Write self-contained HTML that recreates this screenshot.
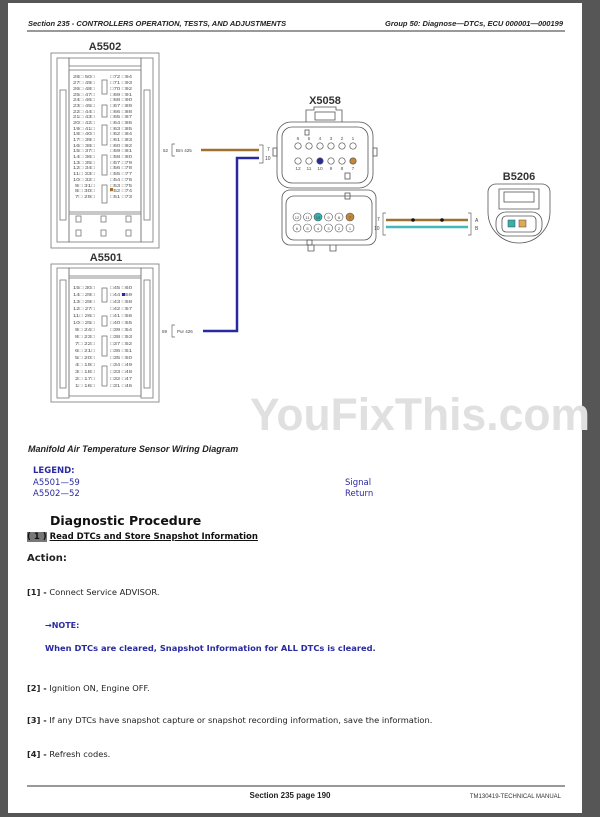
<!DOCTYPE html>
<html><head><meta charset="utf-8"><style>
html,body{margin:0;padding:0;background:#565656;width:600px;height:817px;overflow:hidden}
.page{position:absolute;left:8px;top:3px;width:574px;height:810px;background:#fff}
svg{position:absolute;left:0;top:0}
text{font-family:"Liberation Sans",sans-serif}
.t{position:absolute;font-family:"DejaVu Sans","Liberation Sans",sans-serif;white-space:nowrap;color:#222}
</style></head><body>
<div class="page"></div>
<svg width="600" height="817" viewBox="0 0 600 817">
<text x="28" y="26" font-size="7.5" font-weight="bold" font-style="italic" fill="#222">Section 235 - CONTROLLERS OPERATION, TESTS, AND ADJUSTMENTS</text>
<text x="563" y="26" font-size="7.5" font-weight="bold" font-style="italic" fill="#222" text-anchor="end">Group 50: Diagnose—DTCs, ECU 000001—000199</text>
<line x1="27" y1="31" x2="565" y2="31" stroke="#333" stroke-width="1"/>
<text x="250" y="430" font-size="45" font-weight="bold" fill="#e0e0e0" textLength="340" lengthAdjust="spacingAndGlyphs">YouFixThis.com</text>

<!-- A5502 -->
<text x="105" y="50" font-size="11" font-weight="bold" text-anchor="middle" fill="#333">A5502</text>
<g fill="none" stroke="#777" stroke-width="0.8">
<rect x="51" y="53" width="108" height="195"/>
<rect x="57" y="58" width="12" height="184"/><rect x="141" y="58" width="12" height="184"/>
<rect x="60" y="90" width="6" height="130"/><rect x="144" y="90" width="6" height="130"/>
<rect x="69" y="58" width="72" height="8"/>
<rect x="69" y="70" width="72" height="142"/>
<rect x="69" y="214" width="72" height="28"/>
<rect x="102" y="80" width="5" height="14"/><rect x="102" y="105" width="5" height="12"/>
<rect x="102" y="125" width="5" height="20"/><rect x="102" y="155" width="5" height="20"/><rect x="102" y="185" width="5" height="18"/>
<rect x="76" y="216" width="5" height="6"/><rect x="101" y="216" width="5" height="6"/><rect x="126" y="216" width="5" height="6"/>
<rect x="76" y="230" width="5" height="6"/><rect x="101" y="230" width="5" height="6"/><rect x="126" y="230" width="5" height="6"/>
</g>
<g font-size="4.6" fill="#555">
<text x="73" y="78" textLength="22" lengthAdjust="spacingAndGlyphs">28□ 50□</text><text x="110" y="78" textLength="22" lengthAdjust="spacingAndGlyphs">□72 □94</text>
<text x="73" y="84" textLength="22" lengthAdjust="spacingAndGlyphs">27□ 49□</text><text x="110" y="84" textLength="22" lengthAdjust="spacingAndGlyphs">□71 □93</text>
<text x="73" y="90" textLength="22" lengthAdjust="spacingAndGlyphs">26□ 48□</text><text x="110" y="90" textLength="22" lengthAdjust="spacingAndGlyphs">□70 □92</text>
<text x="73" y="96" textLength="22" lengthAdjust="spacingAndGlyphs">25□ 47□</text><text x="110" y="96" textLength="22" lengthAdjust="spacingAndGlyphs">□69 □91</text>
<text x="73" y="101" textLength="22" lengthAdjust="spacingAndGlyphs">24□ 46□</text><text x="110" y="101" textLength="22" lengthAdjust="spacingAndGlyphs">□68 □90</text>
<text x="73" y="107" textLength="22" lengthAdjust="spacingAndGlyphs">23□ 45□</text><text x="110" y="107" textLength="22" lengthAdjust="spacingAndGlyphs">□67 □89</text>
<text x="73" y="113" textLength="22" lengthAdjust="spacingAndGlyphs">22□ 44□</text><text x="110" y="113" textLength="22" lengthAdjust="spacingAndGlyphs">□66 □88</text>
<text x="73" y="118" textLength="22" lengthAdjust="spacingAndGlyphs">21□ 43□</text><text x="110" y="118" textLength="22" lengthAdjust="spacingAndGlyphs">□65 □87</text>
<text x="73" y="124" textLength="22" lengthAdjust="spacingAndGlyphs">20□ 42□</text><text x="110" y="124" textLength="22" lengthAdjust="spacingAndGlyphs">□64 □86</text>
<text x="73" y="130" textLength="22" lengthAdjust="spacingAndGlyphs">19□ 41□</text><text x="110" y="130" textLength="22" lengthAdjust="spacingAndGlyphs">□63 □85</text>
<text x="73" y="135" textLength="22" lengthAdjust="spacingAndGlyphs">18□ 40□</text><text x="110" y="135" textLength="22" lengthAdjust="spacingAndGlyphs">□62 □84</text>
<text x="73" y="141" textLength="22" lengthAdjust="spacingAndGlyphs">17□ 39□</text><text x="110" y="141" textLength="22" lengthAdjust="spacingAndGlyphs">□61 □83</text>
<text x="73" y="147" textLength="22" lengthAdjust="spacingAndGlyphs">16□ 38□</text><text x="110" y="147" textLength="22" lengthAdjust="spacingAndGlyphs">□60 □82</text>
<text x="73" y="152" textLength="22" lengthAdjust="spacingAndGlyphs">15□ 37□</text><text x="110" y="152" textLength="22" lengthAdjust="spacingAndGlyphs">□59 □81</text>
<text x="73" y="158" textLength="22" lengthAdjust="spacingAndGlyphs">14□ 36□</text><text x="110" y="158" textLength="22" lengthAdjust="spacingAndGlyphs">□58 □80</text>
<text x="73" y="164" textLength="22" lengthAdjust="spacingAndGlyphs">13□ 35□</text><text x="110" y="164" textLength="22" lengthAdjust="spacingAndGlyphs">□57 □79</text>
<text x="73" y="169" textLength="22" lengthAdjust="spacingAndGlyphs">12□ 34□</text><text x="110" y="169" textLength="22" lengthAdjust="spacingAndGlyphs">□56 □78</text>
<text x="73" y="175" textLength="22" lengthAdjust="spacingAndGlyphs">11□ 33□</text><text x="110" y="175" textLength="22" lengthAdjust="spacingAndGlyphs">□55 □77</text>
<text x="73" y="181" textLength="22" lengthAdjust="spacingAndGlyphs">10□ 32□</text><text x="110" y="181" textLength="22" lengthAdjust="spacingAndGlyphs">□54 □76</text>
<text x="75" y="187" textLength="20" lengthAdjust="spacingAndGlyphs">9□ 31□</text><text x="110" y="187" textLength="22" lengthAdjust="spacingAndGlyphs">□53 □75</text>
<text x="75" y="192" textLength="20" lengthAdjust="spacingAndGlyphs">8□ 30□</text><text x="110" y="192" textLength="22" lengthAdjust="spacingAndGlyphs">□52 □74</text>
<text x="75" y="198" textLength="20" lengthAdjust="spacingAndGlyphs">7□ 29□</text><text x="110" y="198" textLength="22" lengthAdjust="spacingAndGlyphs">□51 □73</text>
</g>
<rect x="110" y="188" width="3" height="3" fill="#a07030"/>

<!-- A5501 -->
<text x="106" y="261" font-size="11" font-weight="bold" text-anchor="middle" fill="#333">A5501</text>
<g fill="none" stroke="#777" stroke-width="0.8">
<rect x="51" y="264" width="108" height="138"/>
<rect x="57" y="268" width="12" height="130"/><rect x="141" y="268" width="12" height="130"/>
<rect x="60" y="280" width="6" height="108"/><rect x="144" y="280" width="6" height="108"/>
<rect x="69" y="268" width="72" height="8"/>
<rect x="69" y="278" width="72" height="118"/>
<rect x="102" y="288" width="5" height="14"/><rect x="102" y="316" width="5" height="10"/>
<rect x="102" y="336" width="5" height="20"/><rect x="102" y="366" width="5" height="20"/>
</g>
<g font-size="4.6" fill="#555">
<text x="73" y="289" textLength="22" lengthAdjust="spacingAndGlyphs">15□ 30□</text><text x="110" y="289" textLength="22" lengthAdjust="spacingAndGlyphs">□45 □60</text>
<text x="73" y="296" textLength="22" lengthAdjust="spacingAndGlyphs">14□ 29□</text><text x="110" y="296" textLength="22" lengthAdjust="spacingAndGlyphs">□44 □59</text>
<text x="73" y="303" textLength="22" lengthAdjust="spacingAndGlyphs">13□ 28□</text><text x="110" y="303" textLength="22" lengthAdjust="spacingAndGlyphs">□43 □58</text>
<text x="73" y="310" textLength="22" lengthAdjust="spacingAndGlyphs">12□ 27□</text><text x="110" y="310" textLength="22" lengthAdjust="spacingAndGlyphs">□42 □57</text>
<text x="73" y="317" textLength="22" lengthAdjust="spacingAndGlyphs">11□ 26□</text><text x="110" y="317" textLength="22" lengthAdjust="spacingAndGlyphs">□41 □56</text>
<text x="73" y="324" textLength="22" lengthAdjust="spacingAndGlyphs">10□ 25□</text><text x="110" y="324" textLength="22" lengthAdjust="spacingAndGlyphs">□40 □55</text>
<text x="75" y="331" textLength="20" lengthAdjust="spacingAndGlyphs">9□ 24□</text><text x="110" y="331" textLength="22" lengthAdjust="spacingAndGlyphs">□39 □54</text>
<text x="75" y="338" textLength="20" lengthAdjust="spacingAndGlyphs">8□ 23□</text><text x="110" y="338" textLength="22" lengthAdjust="spacingAndGlyphs">□38 □53</text>
<text x="75" y="345" textLength="20" lengthAdjust="spacingAndGlyphs">7□ 22□</text><text x="110" y="345" textLength="22" lengthAdjust="spacingAndGlyphs">□37 □52</text>
<text x="75" y="352" textLength="20" lengthAdjust="spacingAndGlyphs">6□ 21□</text><text x="110" y="352" textLength="22" lengthAdjust="spacingAndGlyphs">□36 □51</text>
<text x="75" y="359" textLength="20" lengthAdjust="spacingAndGlyphs">5□ 20□</text><text x="110" y="359" textLength="22" lengthAdjust="spacingAndGlyphs">□35 □50</text>
<text x="75" y="366" textLength="20" lengthAdjust="spacingAndGlyphs">4□ 19□</text><text x="110" y="366" textLength="22" lengthAdjust="spacingAndGlyphs">□34 □49</text>
<text x="75" y="373" textLength="20" lengthAdjust="spacingAndGlyphs">3□ 18□</text><text x="110" y="373" textLength="22" lengthAdjust="spacingAndGlyphs">□33 □48</text>
<text x="75" y="380" textLength="20" lengthAdjust="spacingAndGlyphs">2□ 17□</text><text x="110" y="380" textLength="22" lengthAdjust="spacingAndGlyphs">□32 □47</text>
<text x="75" y="387" textLength="20" lengthAdjust="spacingAndGlyphs">1□ 16□</text><text x="110" y="387" textLength="22" lengthAdjust="spacingAndGlyphs">□31 □46</text>
</g>
<rect x="122" y="293" width="3" height="3" fill="#2a2a9a"/>

<!-- wires from ECU -->
<text x="163" y="152" font-size="4.5" fill="#444">52</text>
<path d="M175 144 h-3 v12 h3" fill="none" stroke="#666" stroke-width="0.7"/>
<text x="176" y="152" font-size="4.5" fill="#444">Brn 425</text>
<line x1="201" y1="150" x2="259" y2="150" stroke="#a07030" stroke-width="2.5"/>
<path d="M259 158 H237 V331 H203" fill="none" stroke="#2a2aa0" stroke-width="2.5"/>
<text x="162" y="333" font-size="4.5" fill="#444">59</text>
<path d="M175 325 h-3 v12 h3" fill="none" stroke="#666" stroke-width="0.7"/>
<text x="177" y="333" font-size="4.5" fill="#444">Pur 426</text>
<path d="M259 145 h4 v18 h-4" fill="none" stroke="#666" stroke-width="0.7"/>
<text x="267" y="151" font-size="5" fill="#444">7</text>
<text x="265" y="160" font-size="5" fill="#444">10</text>

<!-- X5058 upper -->
<text x="325" y="104" font-size="11" font-weight="bold" text-anchor="middle" fill="#333">X5058</text>
<g fill="none" stroke="#555" stroke-width="0.8">
<path d="M306 122 V110 h8 v-3 h22 v3 h6 v12"/>
<rect x="315" y="112" width="20" height="8"/>
<rect x="277" y="122" width="96" height="66" rx="14"/>
<rect x="282" y="127" width="86" height="56" rx="10"/>
<rect x="273" y="148" width="4" height="8"/><rect x="373" y="148" width="4" height="8"/>
<rect x="305" y="130" width="4" height="5"/><rect x="345" y="173" width="5" height="6"/>
</g>
<g font-size="4.8" fill="#555" text-anchor="middle">
<text x="298" y="140">6</text><text x="309" y="140">5</text><text x="320" y="140">4</text><text x="331" y="140">3</text><text x="342" y="140">2</text><text x="353" y="140">1</text>
<text x="298" y="170">12</text><text x="309" y="170">11</text><text x="320" y="170">10</text><text x="331" y="170">9</text><text x="342" y="170">8</text><text x="353" y="170">7</text>
</g>
<g stroke="#555" stroke-width="0.7" fill="#fff">
<circle cx="298" cy="146" r="3.2"/><circle cx="309" cy="146" r="3.2"/><circle cx="320" cy="146" r="3.2"/><circle cx="331" cy="146" r="3.2"/><circle cx="342" cy="146" r="3.2"/><circle cx="353" cy="146" r="3.2"/>
<circle cx="298" cy="161" r="3.2"/><circle cx="309" cy="161" r="3.2"/><circle cx="320" cy="161" r="3.2" fill="#2a2aa0"/><circle cx="331" cy="161" r="3.2"/><circle cx="342" cy="161" r="3.2"/><circle cx="353" cy="161" r="3.2" fill="#c08838"/>
</g>

<!-- X5058 lower -->
<g fill="none" stroke="#555" stroke-width="0.8">
<rect x="282" y="190" width="94" height="55" rx="8"/>
<rect x="286" y="196" width="86" height="44" rx="8"/>
<rect x="345" y="193" width="5" height="6"/><rect x="307" y="240" width="5" height="5"/>
<path d="M308 245 v6 h6 v-6 M330 245 v6 h6 v-6"/>
</g>
<g stroke="#555" stroke-width="0.6" fill="#fff">
<circle cx="297" cy="217" r="4"/><circle cx="307.5" cy="217" r="4"/><circle cx="318" cy="217" r="4" fill="#35b0b0"/><circle cx="328.5" cy="217" r="4"/><circle cx="339" cy="217" r="4"/><circle cx="350" cy="217" r="4" fill="#c08838"/>
<circle cx="297" cy="228" r="4"/><circle cx="307.5" cy="228" r="4"/><circle cx="318" cy="228" r="4"/><circle cx="328.5" cy="228" r="4"/><circle cx="339" cy="228" r="4"/><circle cx="350" cy="228" r="4"/>
</g>
<g font-size="4" fill="#444" text-anchor="middle">
<text x="297" y="219">12</text><text x="307.5" y="219">11</text><text x="318" y="219">10</text><text x="328.5" y="219">9</text><text x="339" y="219">8</text><text x="350" y="219">7</text>
<text x="297" y="230">6</text><text x="307.5" y="230">5</text><text x="318" y="230">4</text><text x="328.5" y="230">3</text><text x="339" y="230">2</text><text x="350" y="230">1</text>
</g>

<!-- lower wires -->
<text x="377" y="221" font-size="5" fill="#444">7</text>
<text x="374" y="230" font-size="5" fill="#444">10</text>
<path d="M386 213 h-3 v22 h3" fill="none" stroke="#666" stroke-width="0.7"/>
<path d="M468 213 h3 v22 h-3" fill="none" stroke="#666" stroke-width="0.7"/>
<line x1="386" y1="220" x2="468" y2="220" stroke="#a07030" stroke-width="2.5"/>
<line x1="386" y1="227" x2="468" y2="227" stroke="#45b8b8" stroke-width="2.5"/>
<circle cx="413" cy="220" r="1.8" fill="#111"/><circle cx="442" cy="220" r="1.8" fill="#111"/>
<text x="475" y="222" font-size="5" fill="#444">A</text>
<text x="475" y="230" font-size="5" fill="#444">B</text>

<!-- B5206 -->
<text x="519" y="180" font-size="11" font-weight="bold" text-anchor="middle" fill="#333">B5206</text>
<g fill="none" stroke="#555" stroke-width="0.8">
<path d="M496 184 h46 a8 8 0 0 1 8 8 v20 a28 28 0 0 1 -62 0 v-20 a8 8 0 0 1 8 -8z"/>
<path d="M499 189 h40 v20 h-40z"/>
<rect x="504" y="192" width="30" height="10"/>
<rect x="496" y="212" width="46" height="24" rx="10"/>
<rect x="502" y="216" width="34" height="16" rx="4"/>
</g>
<rect x="508" y="220" width="7" height="7" fill="#35b0b0" stroke="#444" stroke-width="0.5"/>
<rect x="519" y="220" width="7" height="7" fill="#e0a850" stroke="#444" stroke-width="0.5"/>

<!-- footer -->
<line x1="27" y1="786" x2="565" y2="786" stroke="#333" stroke-width="1"/>
<text x="290" y="798" font-size="8" font-weight="bold" fill="#222" text-anchor="middle">Section 235 page 190</text>
<text x="561" y="798" font-size="6" fill="#333" text-anchor="end">TM130419-TECHNICAL MANUAL</text>
</svg>

<div class="t" style="left:28px;top:444px;font-size:9px;font-weight:bold;font-style:italic;font-family:'Liberation Sans',sans-serif">Manifold Air Temperature Sensor Wiring Diagram</div>
<div class="t" style="left:33px;top:466px;font-size:8.5px;font-weight:bold;color:#2a2aa0">LEGEND:</div>
<div class="t" style="left:33px;top:478px;font-size:8.5px;color:#2a2aa0">A5501—59</div>
<div class="t" style="left:33px;top:489px;font-size:8.5px;color:#2a2aa0">A5502—52</div>
<div class="t" style="left:345px;top:478px;font-size:8.5px;color:#2a2aa0">Signal</div>
<div class="t" style="left:345px;top:489px;font-size:8.5px;color:#2a2aa0">Return</div>
<div class="t" style="left:50px;top:513px;font-size:12.5px;font-weight:bold;color:#111">Diagnostic Procedure</div>
<div class="t" style="left:27px;top:532px;font-size:8.5px;font-weight:bold;color:#111"><span style="background:#777;color:#111">( 1 )</span> <span style="text-decoration:underline">Read DTCs and Store Snapshot Information</span></div>
<div class="t" style="left:27px;top:553px;font-size:10px;font-weight:bold;color:#222">Action:</div>
<div class="t" style="left:27px;top:587px;font-size:8.3px"><b>[1] -</b> Connect Service ADVISOR.</div>
<div class="t" style="left:45px;top:621px;font-size:8px;font-weight:bold;color:#2a2aa0">→NOTE:</div>
<div class="t" style="left:45px;top:643px;font-size:8.3px;font-weight:bold;color:#2a2aa0">When DTCs are cleared, Snapshot Information for ALL DTCs is cleared.</div>
<div class="t" style="left:27px;top:683px;font-size:8.3px"><b>[2] -</b> Ignition ON, Engine OFF.</div>
<div class="t" style="left:27px;top:715px;font-size:8.3px"><b>[3] -</b> If any DTCs have snapshot capture or snapshot recording information, save the information.</div>
<div class="t" style="left:27px;top:749px;font-size:8.3px"><b>[4] -</b> Refresh codes.</div>
</body></html>
